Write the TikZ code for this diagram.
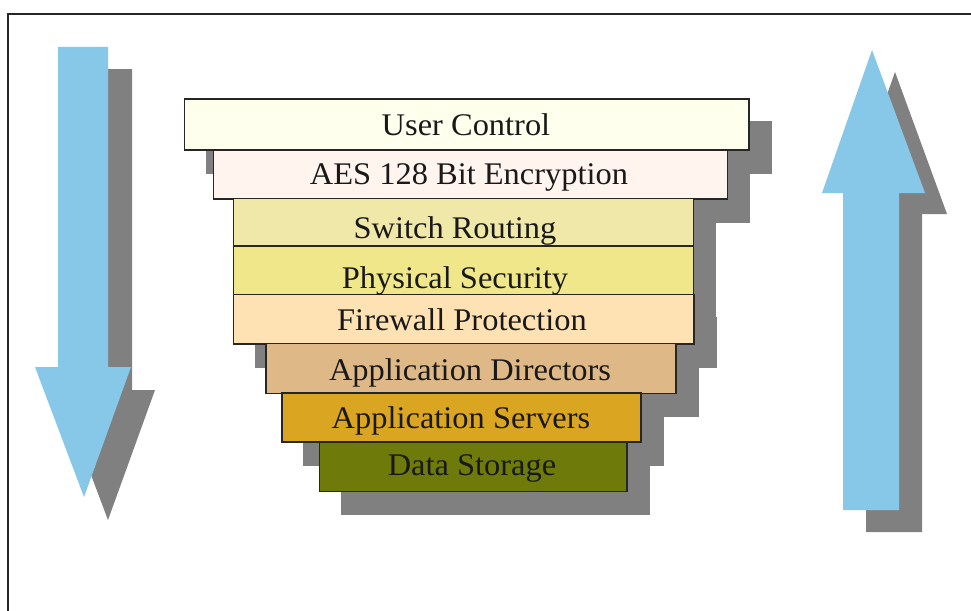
\documentclass[tikz,border=0pt]{standalone}
\usepackage{fontspec}
\setmainfont{Liberation Serif}[FakeStretch=1.03]
\definecolor{arrowblue}{HTML}{87C8E8}
\definecolor{shadowgray}{HTML}{808080}
\definecolor{cUser}{HTML}{FFFFEE}
\definecolor{cAes}{HTML}{FFF5EE}
\definecolor{cSwitch}{HTML}{F0E8A8}
\definecolor{cPhys}{HTML}{F0E68A}
\definecolor{cFire}{HTML}{FFE2B4}
\definecolor{cDir}{HTML}{DEB887}
\definecolor{cServ}{HTML}{DAA520}
\definecolor{cData}{HTML}{6E7B0B}
\pgfdeclarelayer{paper}
\pgfdeclarelayer{shadows}
\pgfsetlayers{paper,shadows,main}
\tikzset{
  layerbox/.style={draw=black!85, line width=1.3pt, rectangle, inner sep=0pt},
  layertext/.style={anchor=base, inner sep=0pt, text=black!90,
    font=\fontsize{31.5}{36}\selectfont},
  boxshadow/.style={fill=shadowgray},
}
% one layer of the stack: name, left, top, right, bottom, colour
\newcommand{\stacklayer}[6]{%
  \node[layerbox, fill=#6, minimum width={(#4-#2)*1pt}, minimum height={(#5-#3)*1pt}]
    (#1) at ({(#2+#4)/2},{(#3+#5)/2}) {};
  \begin{pgfonlayer}{shadows}
    \fill[boxshadow] ([shift={(22,23)}]#1.north west) rectangle ([shift={(22,23)}]#1.south east);
  \end{pgfonlayer}}
\begin{document}
\begin{tikzpicture}[x=1pt,y=-1pt]
\useasboundingbox (0,0) rectangle (971,610);
\begin{pgfonlayer}{paper}
  \fill[white] (0,0) rectangle (971,610);
\end{pgfonlayer}

% frame
\draw[line width=2pt, black!85] (7.5,612) -- (7.5,14) -- (973,14);

% left arrow (pointing down) with its shadow
\fill[shadowgray] (82,69) -- (132,69) -- (132,390) -- (155,390) -- (108,520) -- (59,390) -- (82,390) -- cycle;
\fill[arrowblue] (58,47) -- (108,47) -- (108,367) -- (131,367) -- (84,497) -- (35,367) -- (58,367) -- cycle;

% right arrow (pointing up) with its shadow
\fill[shadowgray] (866,532) -- (922,532) -- (922,214) -- (947,214) -- (895,72) -- (845,214) -- (866,214) -- cycle;
\fill[arrowblue] (843,510) -- (899,510) -- (899,193) -- (925,193) -- (872,50) -- (822,193) -- (843,193) -- cycle;

% stack of layers
\stacklayer{user}{184.5}{99}{749}{150}{cUser}
\stacklayer{aes}{213.5}{150}{727.5}{199}{cAes}
\stacklayer{switch}{233.5}{198.5}{693.5}{246}{cSwitch}
\stacklayer{phys}{233.5}{246}{693.5}{294.5}{cPhys}
\stacklayer{fire}{233.5}{294.5}{694}{344}{cFire}
\stacklayer{dir}{266}{343.5}{676}{393.5}{cDir}
\stacklayer{serv}{282}{393}{641}{442}{cServ}
\stacklayer{data}{319.5}{442}{627}{491.5}{cData}

% layer captions
\node[layertext] (tuser)   at (466,135) {User Control};
\node[layertext] (taes)    at (469,184) {AES 128 Bit Encryption};
\node[layertext] (tswitch) at (455,238) {Switch Routing};
\node[layertext] (tphys)   at (455,288) {Physical Security};
\node[layertext] (tfire)   at (462,330) {Firewall Protection};
\node[layertext] (tdir)    at (470,380) {Application Directors};
\node[layertext] (tserv)   at (461,428) {Application Servers};
\node[layertext] (tdata)   at (472,475) {Data Storage};
\end{tikzpicture}
\end{document}
